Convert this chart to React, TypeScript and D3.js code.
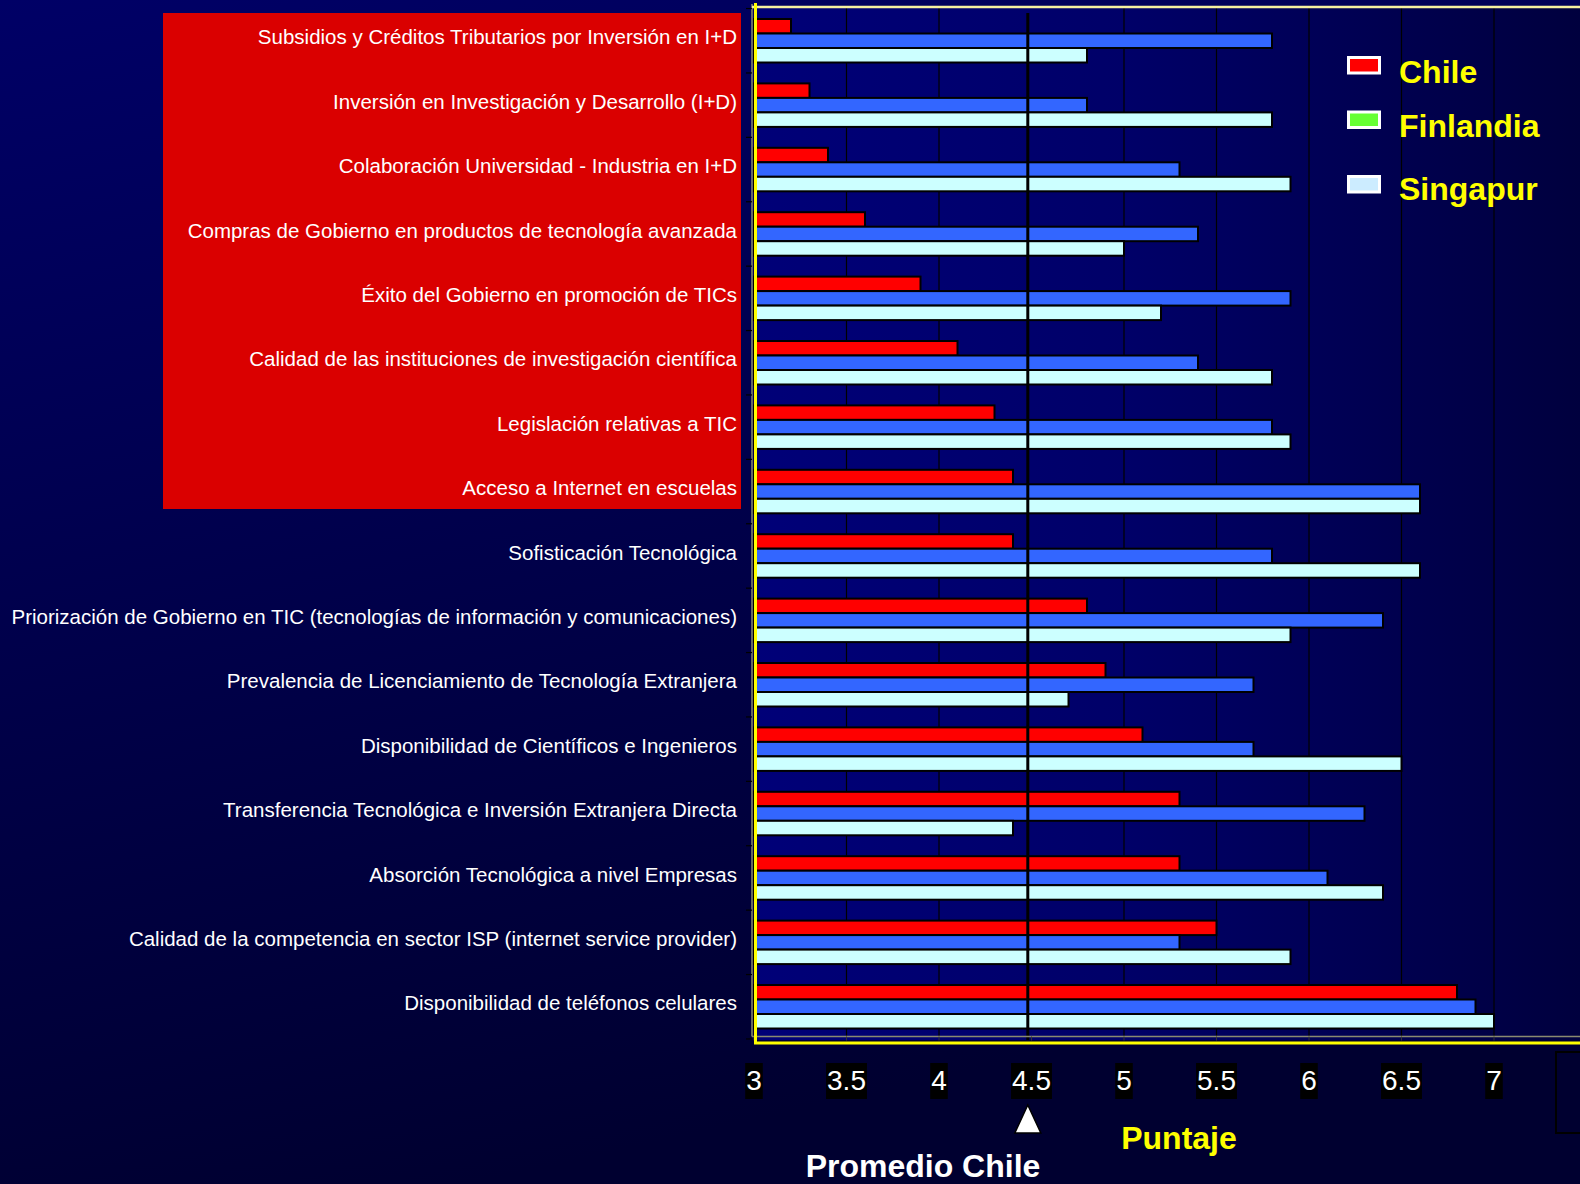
import React from "react";
import * as d3 from "d3";

const categories = [
  "Subsidios y Créditos Tributarios por Inversión en I+D",
  "Inversión en Investigación y Desarrollo (I+D)",
  "Colaboración Universidad - Industria en I+D",
  "Compras de Gobierno en productos de tecnología avanzada",
  "Éxito del Gobierno en promoción de TICs",
  "Calidad de las instituciones de investigación científica",
  "Legislación relativas a TIC",
  "Acceso a Internet en escuelas",
  "Sofisticación Tecnológica",
  "Priorización de Gobierno en TIC (tecnologías de información y comunicaciones)",
  "Prevalencia de Licenciamiento de Tecnología Extranjera",
  "Disponibilidad de Científicos e Ingenieros",
  "Transferencia Tecnológica e Inversión Extranjera Directa",
  "Absorción Tecnológica a nivel Empresas",
  "Calidad de la competencia en sector ISP (internet service provider)",
  "Disponibilidad de teléfonos celulares",
];
const chile = [3.2, 3.3, 3.4, 3.6, 3.9, 4.1, 4.3, 4.4, 4.4, 4.8, 4.9, 5.1, 5.3, 5.3, 5.5, 6.8];
const finlandia = [5.8, 4.8, 5.3, 5.4, 5.9, 5.4, 5.8, 6.6, 5.8, 6.4, 5.7, 5.7, 6.3, 6.1, 5.3, 6.9];
const singapur = [4.8, 5.8, 5.9, 5.0, 5.2, 5.8, 5.9, 6.6, 6.6, 5.9, 4.7, 6.5, 4.4, 6.4, 5.9, 7.0];
const tickValues = [3, 3.5, 4, 4.5, 5, 5.5, 6, 6.5, 7];
const gridValues = [3.5, 4, 5, 5.5, 6, 6.5, 7];
const promedioChile = 4.48;
const seriesNames = ["Chile", "Finlandia", "Singapur"];
const barColors = ["#FF0000", "#3366FF", "#CCFFFF"];
const legendColors = ["#FF0000", "#66FF33", "#CCECFF"];

const W = 1580;
const H = 1184;
const FONT = "'Liberation Sans', Arial, Helvetica, sans-serif";

export default function App() {
  const x = d3.scaleLinear().domain([3, 7]).range([754, 1494]);
  const step = 64.4;
  const groupH = 43.5;
  const gap = step - groupH;
  const y0 = 19 - gap / 2;
  const y = d3
    .scaleBand<string>()
    .domain(categories)
    .range([y0, y0 + step * categories.length])
    .paddingInner(gap / step)
    .paddingOuter(gap / 2 / step);
  const sub = d3.scaleBand<number>().domain([0, 1, 2]).range([0, y.bandwidth()]).padding(0);
  const series = [chile, finlandia, singapur];
  const plotTop = 7;
  const plotBottom = 1040;
  const axisY = 1036.5;

  const charW = (s: string) =>
    s.split("").reduce((a, c) => a + (c === "." ? 0.278 : 0.556), 0) * 28;

  return (
    <svg
      width={W}
      height={H}
      style={{ position: "absolute", left: 0, top: 0, display: "block" }}
      fontFamily={FONT}
    >
      <defs>
        <linearGradient id="bg" x1="0" y1="0" x2="0.3" y2="1">
          <stop offset="0" stopColor="#000066" />
          <stop offset="1" stopColor="#000030" />
        </linearGradient>
        <linearGradient id="plotbg" x1="0" y1="0" x2="1" y2="0">
          <stop offset="0" stopColor="#000078" />
          <stop offset="0.45" stopColor="#000068" />
          <stop offset="1" stopColor="#00003E" />
        </linearGradient>
      </defs>
      <rect x={0} y={0} width={W} height={H} fill="url(#bg)" />

      {/* highlight box */}
      <rect x={163} y={13} width={578} height={496} fill="#DA0000" />

      {/* plot area */}
      <rect x={754} y={plotTop} width={W - 754} height={plotBottom - plotTop} fill="url(#plotbg)" />

      {/* grid lines */}
      {gridValues.map((v) => (
        <line key={"g" + v} x1={x(v)} x2={x(v)} y1={plotTop} y2={axisY} stroke="#000000" strokeWidth={1.2} />
      ))}

      {/* bars */}
      {categories.map((c, i) => (
        <g key={c} transform={`translate(0,${y(c)})`}>
          {series.map((s, k) => (
            <rect
              key={k}
              x={x(3)}
              y={sub(k) as number}
              width={x(s[i]) - x(3)}
              height={sub.bandwidth()}
              fill={barColors[k]}
              stroke="#000000"
              strokeWidth={2}
            />
          ))}
        </g>
      ))}

      {/* promedio line */}
      <line x1={x(promedioChile)} x2={x(promedioChile)} y1={13} y2={plotBottom} stroke="#000000" strokeWidth={3} />

      {/* axes */}
      <line x1={752} x2={752} y1={4} y2={axisY} stroke="#8A8A70" strokeWidth={1.5} />
      {d3.range(categories.length + 1).map((k) => (
        <line key={"t" + k} x1={746} x2={752} y1={y0 + k * step} y2={y0 + k * step} stroke="#000000" strokeWidth={1.2} />
      ))}
      <line x1={752} x2={W} y1={axisY} y2={axisY} stroke="#8A8A70" strokeWidth={1.5} />
      {tickValues.map((v) => (
        <line key={"bt" + v} x1={x(v)} x2={x(v)} y1={axisY} y2={axisY + 4} stroke="#333333" strokeWidth={1} />
      ))}
      <line x1={752} x2={W} y1={7} y2={7} stroke="#F5F0A0" strokeWidth={2.5} />
      <line x1={755.5} x2={755.5} y1={3} y2={1044} stroke="#FFFF00" strokeWidth={3} />
      <line x1={754} x2={W} y1={1043} y2={1043} stroke="#FFFF00" strokeWidth={3} />

      {/* category labels */}
      {categories.map((c) => (
        <text
          key={"l" + c}
          x={737}
          y={(y(c) as number) + y.bandwidth() / 2 - 3.5}
          dy="0.35em"
          textAnchor="end"
          fill="#FFFFFF"
          fontSize={20.5}
        >
          {c}
        </text>
      ))}

      {/* tick labels */}
      {tickValues.map((v) => {
        const t = String(v);
        const w = charW(t) + 2;
        return (
          <g key={"tl" + v}>
            <rect x={x(v) - w / 2} y={1063} width={w} height={36} fill="#000000" />
            <text x={x(v)} y={1090} textAnchor="middle" fill="#FFFFFF" fontSize={28}>
              {t}
            </text>
          </g>
        );
      })}

      {/* promedio marker */}
      <path
        d={`M${x(promedioChile) - 13},1133 L${x(promedioChile)},1105 L${x(promedioChile) + 13},1133 Z`}
        fill="#FFFFFF"
        stroke="#000000"
        strokeWidth={1.5}
      />
      <text x={1179} y={1149} textAnchor="middle" fill="#FFFF00" fontSize={32} fontWeight="bold">
        Puntaje
      </text>
      <text x={923} y={1177} textAnchor="middle" fill="#FFFFFF" fontSize={32} fontWeight="bold">
        Promedio Chile
      </text>

      {/* legend */}
      {seriesNames.map((n, k) => {
        const boxY = [57.5, 112, 176.5][k];
        const baseY = [83, 137, 200][k];
        return (
          <g key={"lg" + n}>
            <rect x={1348.5} y={boxY} width={31} height={15.5} fill={legendColors[k]} stroke="#FFFFFF" strokeWidth={3} />
            <text x={1399} y={baseY} fill="#FFFF00" fontSize={32} fontWeight="bold">
              {n}
            </text>
          </g>
        );
      })}

      {/* bottom-right frame */}
      <rect x={1556} y={1052} width={40} height={81} fill="none" stroke="#000000" strokeWidth={2} />

      {/* cut-off source note */}
      <text x={0} y={1198} fill="#FFFF00" fontSize={16} fontWeight="bold">
        2004)
      </text>
    </svg>
  );
}
